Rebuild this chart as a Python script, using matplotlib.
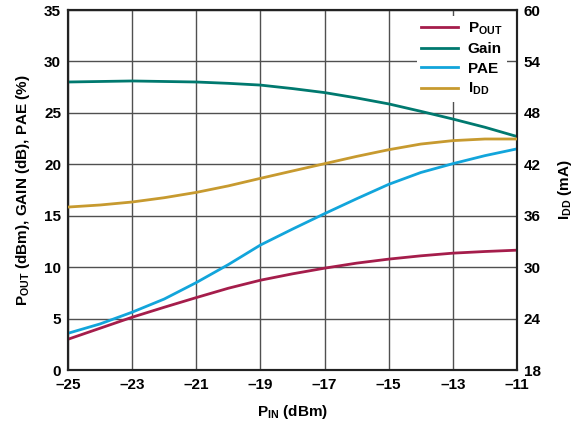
import matplotlib
matplotlib.use("Agg")
import matplotlib.pyplot as plt

pin = [-25, -24, -23, -22, -21, -20, -19, -18, -17, -16, -15, -14, -13, -12, -11]
pout = [2.99, 4.06, 5.13, 6.1, 7.04, 7.95, 8.73, 9.35, 9.9, 10.39, 10.78, 11.1, 11.36, 11.52, 11.65]
gain = [28.0, 28.05, 28.1, 28.05, 28.0, 27.87, 27.7, 27.36, 26.97, 26.45, 25.87, 25.15, 24.4, 23.6, 22.7]
pae = [3.57, 4.48, 5.62, 6.9, 8.5, 10.25, 12.15, 13.7, 15.2, 16.65, 18.05, 19.2, 20.06, 20.84, 21.5]
idd = [37.01, 37.25, 37.6, 38.1, 38.72, 39.48, 40.36, 41.22, 42.07, 42.92, 43.7, 44.36, 44.76, 44.95, 44.95]

xticks = [-25, -23, -21, -19, -17, -15, -13, -11]
lticks = [0, 5, 10, 15, 20, 25, 30, 35]
rticks = [18, 24, 30, 36, 42, 48, 54, 60]

plt.rcParams['font.family'] = ['Liberation Sans', 'DejaVu Sans']
plt.rcParams['font.weight'] = 'bold'
plt.rcParams['mathtext.fontset'] = 'custom'
plt.rcParams['mathtext.rm'] = 'Liberation Sans:bold'
plt.rcParams['mathtext.bf'] = 'Liberation Sans:bold'
plt.rcParams['mathtext.default'] = 'rm'

c_pout = '#A51D4B'
c_gain = '#00796F'
c_pae = '#12A5DB'
c_idd = '#C79A2F'

fig = plt.figure(figsize=(5.83, 4.25), dpi=100)
ax = fig.add_axes([68/583, 1-370/425, (517-68)/583, 360/425])
ax2 = ax.twinx()

lw = 2.0
l1, = ax.plot(pin, pout, color=c_pout, lw=lw, label=r'P$_{OUT}$', zorder=3)
l2, = ax.plot(pin, gain, color=c_gain, lw=lw, label='Gain', zorder=3)
l3, = ax.plot(pin, pae, color=c_pae, lw=lw, label='PAE', zorder=3)
l4, = ax2.plot(pin, idd, color=c_idd, lw=lw, label=r'I$_{DD}$', zorder=3)

ax.set_xlim(-25, -11)
ax.set_ylim(0, 35)
ax2.set_ylim(18, 60)
ax.set_xticks(xticks)
ax.set_xticklabels([f'\u2013{abs(v)}' for v in xticks])
ax.set_yticks(lticks)
ax2.set_yticks(rticks)
ax.grid(True, color='#505050', lw=1.0)
ax.tick_params(axis='x', length=0, labelsize=11, pad=6)
ax.tick_params(axis='y', length=0, labelsize=11, pad=5)
ax2.tick_params(length=0, labelsize=11, pad=5)
for lab in ax.get_xticklabels() + ax.get_yticklabels() + ax2.get_yticklabels():
    lab.set_fontweight('bold')
for a in (ax, ax2):
    for s in a.spines.values():
        s.set_linewidth(1.5)
        s.set_color('#222222')

ax.set_xlabel(r'P$_{IN}$ (dBm)', fontsize=11, fontweight='bold', labelpad=8)
ax.set_ylabel(r'P$_{OUT}$ (dBm), GAIN (dB), PAE (%)', fontsize=11, fontweight='bold', labelpad=9)
ax2.set_ylabel(r'I$_{DD}$ (mA)', fontsize=11, fontweight='bold', labelpad=11)

ax2.set_zorder(ax.get_zorder() + 1)
ax2.patch.set_visible(False)
leg = ax2.legend(handles=[l1, l2, l3, l4], loc='upper right',
                 bbox_to_anchor=(1 - 10/449, 1 - 6/360), borderaxespad=0,
                 fontsize=11, frameon=True, fancybox=False, framealpha=1,
                 facecolor='white', edgecolor='none', handlelength=2.4,
                 handletextpad=0.65, labelspacing=0.35, borderpad=0.3)
for t in leg.get_texts():
    t.set_fontweight('bold')

fig.savefig('out.png', dpi=100)
